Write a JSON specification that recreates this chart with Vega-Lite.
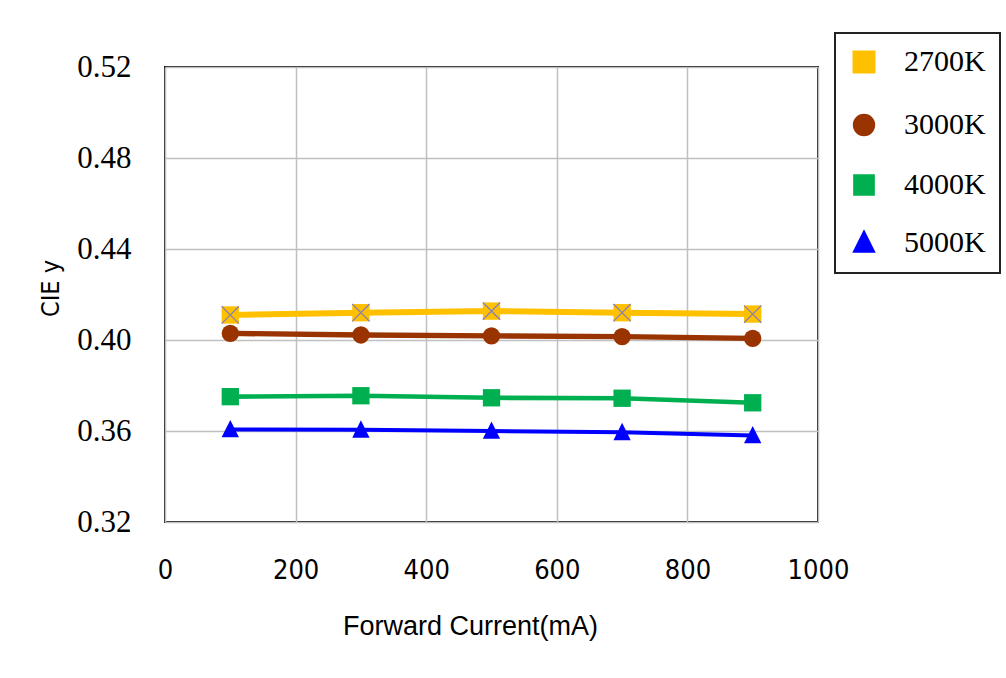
{
  "$schema": "https://vega.github.io/schema/vega-lite/v6.json",
  "autosize": "none",
  "width": 653,
  "height": 455,
  "padding": {"left": 165, "top": 67, "right": 188, "bottom": 156},
  "background": "#ffffff",
  "data": {
    "values": [
      {"series": "2700K", "current": 100, "ciey": 0.4110},
      {"series": "2700K", "current": 300, "ciey": 0.4120},
      {"series": "2700K", "current": 500, "ciey": 0.4127},
      {"series": "2700K", "current": 700, "ciey": 0.4120},
      {"series": "2700K", "current": 900, "ciey": 0.4114},
      {"series": "3000K", "current": 100, "ciey": 0.4029},
      {"series": "3000K", "current": 300, "ciey": 0.4022},
      {"series": "3000K", "current": 500, "ciey": 0.4018},
      {"series": "3000K", "current": 700, "ciey": 0.4015},
      {"series": "3000K", "current": 900, "ciey": 0.4007},
      {"series": "4000K", "current": 100, "ciey": 0.3751},
      {"series": "4000K", "current": 300, "ciey": 0.3755},
      {"series": "4000K", "current": 500, "ciey": 0.3746},
      {"series": "4000K", "current": 700, "ciey": 0.3744},
      {"series": "4000K", "current": 900, "ciey": 0.3724},
      {"series": "5000K", "current": 100, "ciey": 0.3607},
      {"series": "5000K", "current": 300, "ciey": 0.3605},
      {"series": "5000K", "current": 500, "ciey": 0.3600},
      {"series": "5000K", "current": 700, "ciey": 0.3594},
      {"series": "5000K", "current": 900, "ciey": 0.3580}
    ]
  },
  "encoding": {
    "x": {
      "field": "current",
      "type": "quantitative",
      "scale": {"domain": [0, 1000], "nice": false},
      "axis": {
        "values": [0, 200, 400, 600, 800, 1000],
        "format": "d",
        "title": "Forward Current(mA)",
        "titleFont": "Liberation Sans",
        "titleFontSize": 27,
        "titleFontWeight": "normal",
        "titleColor": "#000000",
        "titleX": 305,
        "titleY": 112,
        "titleAlign": "center",
        "titleBaseline": "alphabetic",
        "labelFont": "DejaVu Sans Condensed, Liberation Sans",
        "labelFontSize": 27,
        "labelColor": "#000000",
        "labelPadding": 35,
        "labelFlush": false,
        "ticks": false,
        "domain": false,
        "grid": true,
        "gridColor": "#c0c0c0",
        "gridWidth": 1.5
      }
    },
    "y": {
      "field": "ciey",
      "type": "quantitative",
      "scale": {"domain": [0.32, 0.52], "nice": false, "zero": false},
      "axis": {
        "values": [0.32, 0.36, 0.40, 0.44, 0.48, 0.52],
        "format": ".2f",
        "title": "CIE y",
        "titleFont": "DejaVu Sans Condensed, Liberation Sans",
        "titleFontSize": 25,
        "titleFontWeight": "normal",
        "titleColor": "#000000",
        "titleX": -107,
        "titleY": 221,
        "titleAngle": -90,
        "titleAlign": "center",
        "titleBaseline": "alphabetic",
        "labelFont": "Liberation Serif",
        "labelFontSize": 31,
        "labelColor": "#000000",
        "labelPadding": 34,
        "labelFlush": false,
        "ticks": false,
        "domain": false,
        "grid": true,
        "gridColor": "#c0c0c0",
        "gridWidth": 1.5
      }
    },
    "color": {
      "field": "series",
      "type": "nominal",
      "scale": {
        "domain": ["2700K", "3000K", "4000K", "5000K"],
        "range": ["#FFC000", "#993300", "#00B050", "#0000FF"]
      },
      "legend": {
        "orient": "none",
        "legendX": 670,
        "legendY": -34,
        "title": null,
        "padding": 14,
        "rowPadding": 22,
        "labelFont": "Liberation Serif",
        "labelFontSize": 30,
        "labelColor": "#000000",
        "labelOffset": 25,
        "symbolSize": 289
      }
    }
  },
  "layer": [
    {
      "mark": {"type": "line", "strokeJoin": "round", "strokeCap": "round"},
      "encoding": {
        "strokeWidth": {
          "field": "series",
          "type": "ordinal",
          "scale": {"domain": ["2700K", "3000K", "4000K", "5000K"], "range": [6, 4, 6, 4]},
          "legend": null
        }
      }
    },
    {
      "mark": {"type": "point", "filled": true, "opacity": 1, "size": 300},
      "encoding": {
        "shape": {
          "field": "series",
          "type": "nominal",
          "scale": {
            "domain": ["2700K", "3000K", "4000K", "5000K"],
            "range": ["square", "circle", "square", "M0,-1.1L1,0.9H-1Z"]
          }
        }
      }
    },
    {
      "transform": [{"filter": "datum.series === '2700K'"}],
      "mark": {
        "type": "point",
        "filled": false,
        "shape": "M-1,-1L1,1M1,-1L-1,1",
        "size": 300,
        "stroke": "#8c82b0",
        "strokeWidth": 1.3,
        "opacity": 1
      },
      "encoding": {
        "color": {"value": "#8c82b0"}
      }
    }
  ],
  "config": {
    "view": {"stroke": "#1a1a1a", "strokeWidth": 2},
    "legend": {"strokeColor": "#222222", "strokeWidth": 2}
  }
}
